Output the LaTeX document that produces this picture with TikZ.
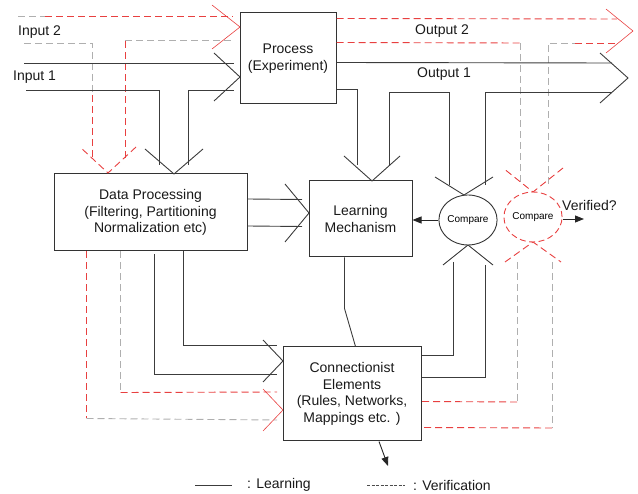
\documentclass[tikz,border=0pt]{standalone}
\usepackage{fontspec}
\setmainfont{Liberation Sans}
\usetikzlibrary{arrows.meta,positioning,shapes.geometric,calc}
\definecolor{lgray}{RGB}{60,60,60}
\definecolor{vred}{RGB}{232,64,64}
\definecolor{vgray}{RGB}{175,175,175}

\begin{document}
\begin{tikzpicture}[x=1pt, y=-1pt,
  box/.style={rectangle, draw=black!80, line width=1pt, align=center, inner sep=0pt,
              font=\fontsize{14}{16.5}\selectfont, text=black!90},
  cmpbox/.style={ellipse, draw=black!80, line width=0.9pt, minimum width=54pt,
                 minimum height=50pt, inner sep=0pt, font=\fontsize{10}{12}\selectfont},
  lbl/.style={anchor=west, inner sep=0pt, font=\fontsize{14}{16}\selectfont, text=black!90},
  learn/.style={color=lgray, line width=0.9pt},
  verif/.style={color=vred, line width=0.9pt, dash pattern=on 7pt off 4pt},
  verifg/.style={color=vgray, line width=0.9pt, dash pattern=on 7pt off 4pt},
  chevv/.style={color=vred, line width=0.6pt},
  arr/.style={-{Triangle[length=9pt, width=7pt]}, line width=0.9pt, color=black!85},
  pics/chev/.style 2 args={code={\draw (-#1,-#2) -- (0,0) -- (-#1,#2);}}
]
\useasboundingbox (0,0) rectangle (638,494);

% blocks
\node[box, minimum width=96pt, minimum height=91pt] (proc) at (288,58.5) {Process\\(Experiment)};
\node[box, minimum width=193pt, minimum height=77pt] (dp) at (150.5,212.5)
  {Data Processing\\(Filtering, Partitioning\\Normalization etc)};
\node[box, minimum width=103pt, minimum height=76pt] (lm) at (360.5,219) {Learning\\Mechanism};
\node[box, minimum width=138pt, minimum height=94pt] (ce) at (352,394)
  {Connectionist\\Elements\\(Rules, Networks,\\Mappings etc. )};
\node[cmpbox] (cmp) at (468,220) {Compare};
\node[cmpbox, draw=vred, dash pattern=on 6pt off 3.5pt] (cmpv) at (533,217) {Compare};

% labels
\node[lbl] (in2) at (18,32) {Input 2};
\node[lbl] (in1) at (13,77) {Input 1};
\node[lbl] (out2) at (415,31) {Output 2};
\node[lbl] (out1) at (417,74) {Output 1};
\node[lbl] (verified) at (562,205) {Verified?};

% band ends and chevron tips
\coordinate (in2a) at (18,16);
\coordinate (in2b) at (24,43);
\coordinate (in1a) at (24,63);
\coordinate (in1b) at (26,90);
\coordinate (tPv) at (240,27);
\coordinate (tPl) at (240,77);
\coordinate (tDv) at (108,173);
\coordinate (tDl) at (174,174);
\coordinate (tLd) at (372,181);
\coordinate (tCd) at (464,195);
\coordinate (tVd) at (533,192);
\coordinate (tCu) at (468,245);
\coordinate (tVu) at (533,242);
\coordinate (tLr) at (309,213);
\coordinate (tOv) at (633,31);
\coordinate (tOl) at (628,78);
\coordinate (tEl) at (283,361);
\coordinate (tEv) at (283,410);
\coordinate (vend) at (584,219);
\coordinate (ceout) at (388,466);

% inputs
\draw[verifg] (in2a) -- ++(27,0);
\draw[verif] ($(in2a)+(27,0)$) -- ($(in2a -| proc.west)+(-7,0)$);
\draw[verifg] (in2b) -| ($(tDv)+(-16,-78)$);
\draw[verif] ($(tDv)+(-16,-78)$) -- ($(tDv)+(-16,-15)$);
\draw[verif] ($(tDv)+(17,-15)$) -- ($(tDv)+(17,-133)$);
\draw[verifg] ($(tDv)+(17,-133)$) -- ($(proc.west)+(-7,-18.5)$);
\draw[learn] (in1a) -- ($(in1a -| proc.west)+(-6,0)$);
\draw[learn] (in1b) -| ($(tDl)+(-15,-9)$);
\draw[learn] ($(tDl)+(14,-9)$) |- ($(in1b -| proc.west)+(-6,0)$);
\pic[chevv] at (tPv) {chev={28}{22}};
\pic[learn] at (tPl) {chev={26}{24}};
\pic[verif, rotate=-90] at (tDv) {chev={26}{28}};
\pic[learn, rotate=-90] at (tDl) {chev={25}{29}};

% outputs
\draw[verif] ($(proc.north east)+(0,6)$) -- ($(tOv)+(-16,-12)$);
\draw[verif] ($(proc.north east)+(0,30)$) -- ($(tVd)+(-13,-149)$);
\draw[verifg] ($(tVd)+(-13,-149)$) -- ($(tVd)+(-13,-8)$);
\draw[verifg] ($(tVd)+(15,-8)$) |- ($(tVd)+(42,-149)$);
\draw[verif] ($(tVd)+(42,-149)$) -- ($(tOv)+(-16,12)$);
\draw[learn] ($(proc.north east)+(0,50)$) -- ($(tOl)+(-16,-15)$);
\draw[learn] ($(proc.north east)+(0,77)$) -| ($(tLd)+(-15,-16)$);
\draw[learn] ($(tLd)+(17,-16)$) |- ($(tCd)+(-15,-103)$) -- ($(tCd)+(-15,-10)$);
\draw[learn] ($(tCd)+(21,-10)$) |- ($(tOl)+(-16,14)$);
\pic[chevv] at (tOv) {chev={27}{22}};
\pic[learn] at (tOl) {chev={28}{25}};
\pic[learn, rotate=-90] at (tLd) {chev={25}{28}};
\pic[learn, rotate=-90] at (tCd) {chev={18}{29}};
\pic[verif, rotate=-90] at (tVd) {chev={24}{30}};

% data processing to learning mechanism
\draw[learn] ($(dp.east)+(0,-13.5)$) -- ($(tLr)+(-7,-13.5)$);
\draw[learn] ($(dp.east)+(0,13.5)$) -- ($(tLr)+(-7,13.5)$);
\pic[learn] at (tLr) {chev={24}{29}};
\draw[arr] (cmp.west) -- (cmp.west -| lm.east);
\draw[arr] (cmpv.east |- vend) -- (vend);

% compare to connectionist elements
\draw[learn] ($(tCu)+(-15,17)$) |- ($(ce.north east)+(0,9)$);
\draw[learn] ($(tCu)+(17,20)$) |- ($(ce.north east)+(0,31)$);
\draw[verifg] ($(tVu)+(-16,20)$) -- ($(tVu)+(-16,160)$);
\draw[verif] ($(tVu)+(-16,160)$) -- ($(ce.north east)+(0,55)$);
\draw[verifg] ($(tVu)+(19,20)$) -- ($(tVu)+(19,186)$);
\draw[verif] ($(tVu)+(19,186)$) -- ($(ce.north east)+(0,81)$);
\pic[learn, rotate=90] at (tCu) {chev={20}{25}};
\pic[verif, rotate=90] at (tVu) {chev={20}{28}};

% data processing to connectionist elements
\draw[learn] ($(dp.south west)+(130,0)$) |- ($(tEl)+(-6,-16)$);
\draw[learn] ($(dp.south west)+(101,3)$) |- ($(tEl)+(-6,13)$);
\draw[verifg] ($(dp.south west)+(67,0)$) -- ($(dp.south west)+(67,141)$);
\draw[verif] ($(dp.south west)+(67,141)$) -- ($(tEv)+(-6,-18)$);
\draw[verif] ($(dp.south west)+(33,0)$) -- ($(dp.south west)+(33,167)$);
\draw[verifg] ($(dp.south west)+(33,167)$) -- ($(tEv)+(-6,10)$);
\pic[learn] at (tEl) {chev={20}{21}};
\pic[chevv] at (tEv) {chev={20}{21}};

% learning mechanism to connectionist elements
\draw[learn] ($(lm.south west)+(36,0)$) -- ++(0,51) -- ($(ce.north west)+(73,0)$);
\draw[arr] ($(ce.south)+(27,0)$) -- (ceout);

% legend
\node[lbl] (leglearn) at (247,485) {: Learning};
\node[lbl] (legverif) at (413,485) {: Verification};
\draw[learn] ($(leglearn.west)+(-52,0)$) -- ++(37,0);
\draw[color=black!70, line width=0.9pt, dash pattern=on 3pt off 1.5pt]
  ($(legverif.west)+(-46,0)$) -- ++(38,0);
\end{tikzpicture}
\end{document}
